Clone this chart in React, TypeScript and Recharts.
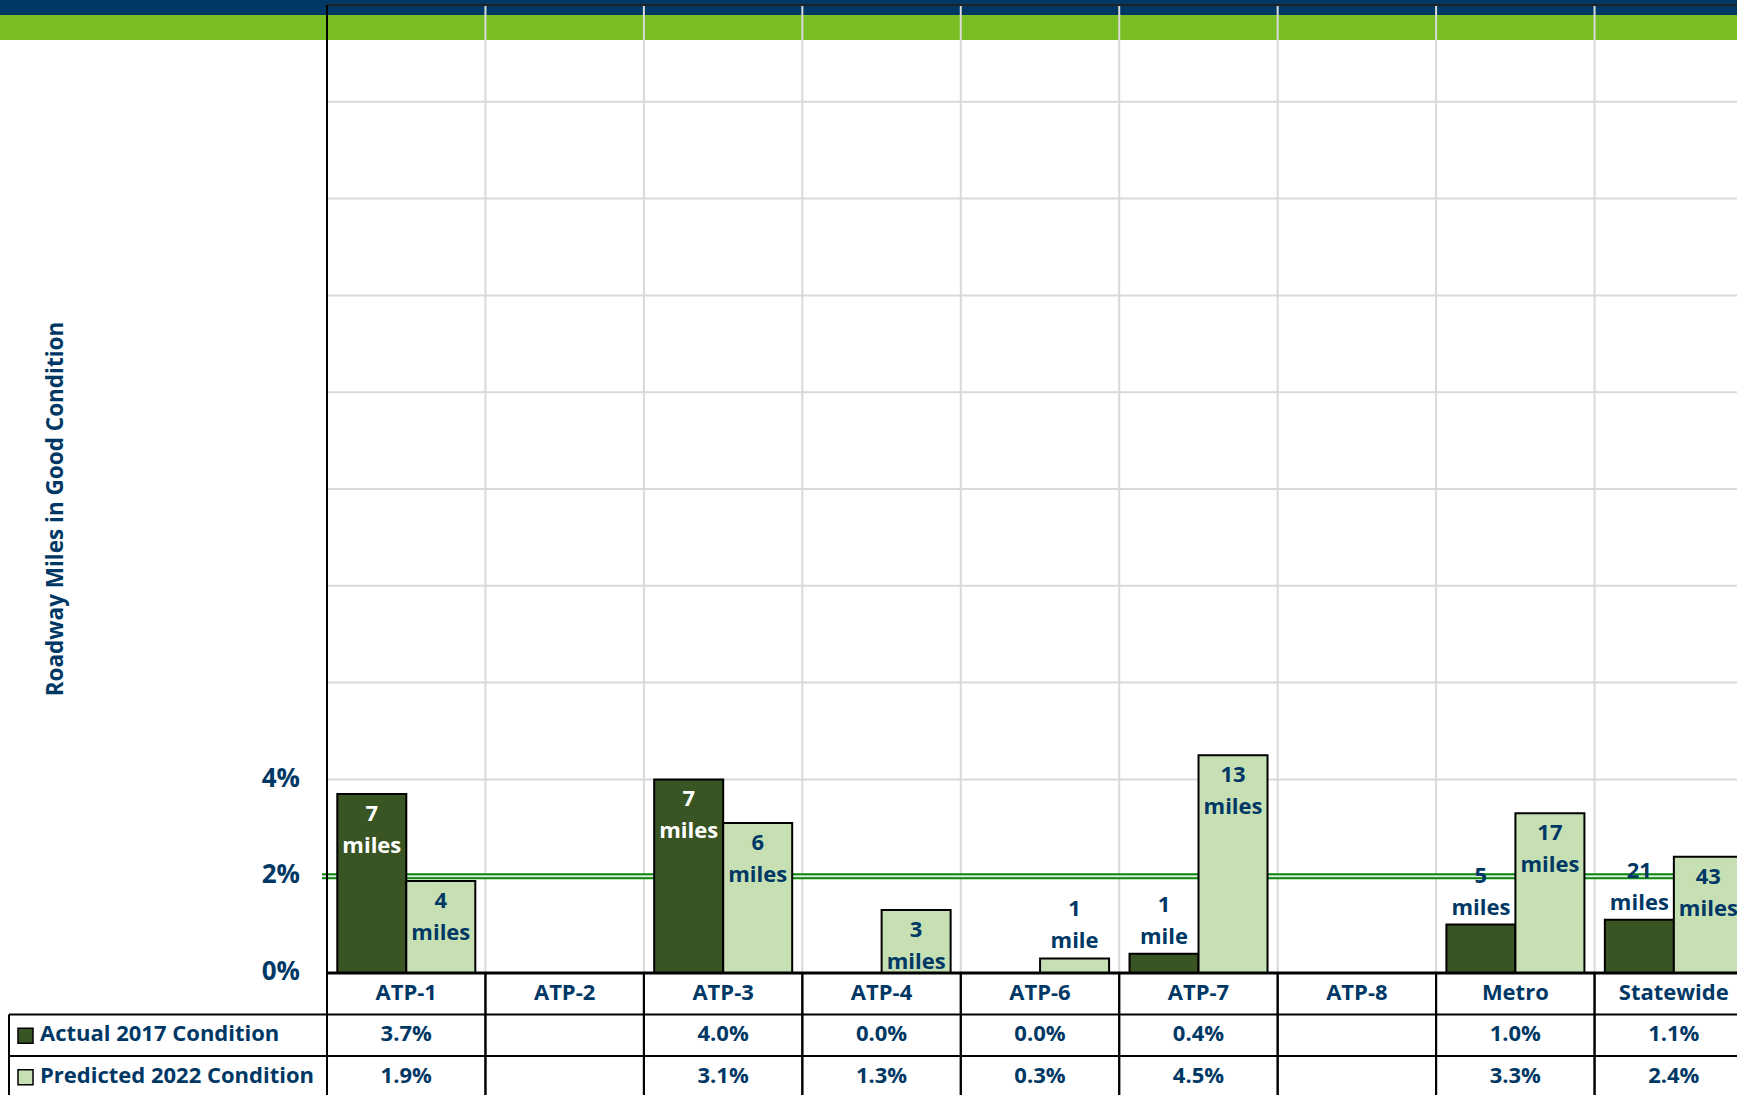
import React from 'react';
import { BarChart, Bar, XAxis, YAxis, CartesianGrid, ReferenceLine, LabelList } from 'recharts';

// regions along the bottom, in chart order
const regions = ['ATP-1', 'ATP-2', 'ATP-3', 'ATP-4', 'ATP-6', 'ATP-7', 'ATP-8', 'Metro', 'Statewide'];
// percent of roadway miles in good condition
const actual2017 = [3.7, null, 4.0, 0.0, 0.0, 0.4, null, 1.0, 1.1];
const predicted2022 = [1.9, null, 3.1, 1.3, 0.3, 4.5, null, 3.3, 2.4];
// miles shown in the bar labels
const actualMiles = [7, null, 7, null, null, 1, null, 5, 21];
const predictedMiles = [4, null, 6, 3, 1, 13, null, 17, 43];
const yTicks = [0, 2, 4, 6, 8, 10, 12, 14, 16, 18, 20];
const labelledTicks = [0, 2, 4];
const targetPct = 2;
const seriesNames = ['Actual 2017 Condition', 'Predicted 2022 Condition'];

const NAVY = '#003865';
const DARK = '#3A5524';
const LIGHT = '#C6E0B4';
const FONT = '"Open Sans", sans-serif';
const ROW_H = 41.5;
const Y_MAX = 20;

const data = regions.map((region, i) => ({
  region,
  actual: actual2017[i],
  predicted: predicted2022[i],
  actualMiles: actualMiles[i],
  predictedMiles: predictedMiles[i],
}));

const txt: any = {
  fontFamily: FONT,
  fontWeight: 700,
  fontSize: 22,
  fill: NAVY,
  textAnchor: 'middle',
  dominantBaseline: 'central',
};

const pct = (v: number | null) => (v == null ? '' : `${v.toFixed(1)}%`);

// x axis tick draws the category cell plus the data table under it
const TableTick = (props: any) => {
  const { x, y, payload, index, width } = props;
  const half = payload && payload.offset ? payload.offset : width / regions.length / 2;
  const left = x - half;
  const right = x + half;
  const r1 = y + ROW_H;
  const r2 = y + 2 * ROW_H;
  const bottom = y + 3 * ROW_H + 20;
  const ln = { stroke: '#000', strokeWidth: 2 };
  const mid = ROW_H / 2 - 3;
  return (
    <g>
      <line x1={left} y1={y} x2={left} y2={bottom} {...ln} />
      <line x1={right} y1={y} x2={right} y2={bottom} {...ln} />
      <line x1={left} y1={r1} x2={right} y2={r1} {...ln} />
      <line x1={left} y1={r2} x2={right} y2={r2} {...ln} />
      <text {...txt} x={x} y={y + mid}>{payload.value}</text>
      <text {...txt} x={x} y={r1 + mid}>{pct(actual2017[index])}</text>
      <text {...txt} x={x} y={r2 + mid}>{pct(predicted2022[index])}</text>
      {index === 0 && (
        <g>
          <line x1={9} y1={r1} x2={left} y2={r1} {...ln} />
          <line x1={9} y1={r2} x2={left} y2={r2} {...ln} />
          <line x1={9} y1={r1} x2={9} y2={bottom} {...ln} />
          <rect x={18} y={r1 + ROW_H / 2 - 7} width={15} height={15} fill={DARK} stroke="#000" strokeWidth={1.5} />
          <rect x={18} y={r2 + ROW_H / 2 - 7} width={15} height={15} fill={LIGHT} stroke="#000" strokeWidth={1.5} />
          <text {...txt} textAnchor="start" x={40} y={r1 + mid}>{seriesNames[0]}</text>
          <text {...txt} textAnchor="start" x={40} y={r2 + mid}>{seriesNames[1]}</text>
        </g>
      )}
    </g>
  );
};

const makeLabel = (insideFill: string) => (props: any) => {
  const { x, y, width, height, value } = props;
  if (value == null || height == null) return null;
  const cx = x + width / 2;
  const inside = height >= 58;
  const l1 = inside ? y + 18 : y - 51;
  const fill = inside ? insideFill : NAVY;
  return (
    <g>
      <text {...txt} fill={fill} x={cx} y={l1}>{value}</text>
      <text {...txt} fill={fill} x={cx} y={l1 + 32}>{value === 1 ? 'mile' : 'miles'}</text>
    </g>
  );
};

// 2% target: double green rule drawn at grid level so bars sit on top
const TargetLine = (props: any) => {
  const { x1, x2, y1 } = props;
  return (
    <g>
      <line x1={x1 - 5} x2={x2} y1={y1} y2={y1} stroke="#0A860A" strokeWidth={6} />
      <line x1={x1 - 5} x2={x2} y1={y1} y2={y1} stroke="#DDEBDD" strokeWidth={2} />
    </g>
  );
};

const YTitle = (props: any) => {
  const vb = props.viewBox || { x: 0, y: 5, width: 327, height: 968 };
  const cx = vb.x + 54;
  const cy = vb.y + vb.height / 2 + 20;
  return (
    <text {...txt} fontSize={22.5} x={cx} y={cy} transform={`rotate(-90 ${cx} ${cy})`}>
      Roadway Miles in Good Condition
    </text>
  );
};

export default function App() {
  return (
    <div style={{ position: 'absolute', left: 0, top: 0, width: 1737, height: 1095, overflow: 'hidden', background: '#fff' }}>
      <div style={{ position: 'absolute', left: 0, top: 0, width: 1737, height: 15, background: NAVY }} />
      <div style={{ position: 'absolute', left: 0, top: 15, width: 1737, height: 25, background: '#79BE22' }} />
      <div style={{ position: 'absolute', left: 0, top: 0 }}>
        <BarChart
          width={1753}
          height={1100}
          data={data}
          margin={{ top: 5, right: 0, bottom: 0, left: 0 }}
          barCategoryGap="6.5%"
          barGap={0}
        >
          <CartesianGrid
            stroke="#D9D9D9"
            strokeWidth={2}
            verticalCoordinatesGenerator={({ offset }: any) =>
              regions.map((_, i) => offset.left + (i + 1) * offset.width / regions.length)
            }
          />
          <CartesianGrid
            vertical={false}
            horizontal={(p: any) => <TargetLine key="target" {...p} />}
            horizontalCoordinatesGenerator={({ offset }: any) => [
              offset.top + offset.height * (1 - targetPct / Y_MAX),
            ]}
          />
          <XAxis
            dataKey="region"
            interval={0}
            height={127}
            tickLine={false}
            tickSize={0}
            tickMargin={0}
            axisLine={{ stroke: '#000', strokeWidth: 3 }}
            tick={<TableTick />}
          />
          <YAxis
            width={327}
            domain={[0, Y_MAX]}
            ticks={yTicks}
            interval={0}
            tickLine={false}
            tickSize={0}
            tickMargin={27}
            axisLine={{ stroke: '#000', strokeWidth: 2 }}
            tickFormatter={(v: number) => (labelledTicks.includes(v) ? `${v}%` : '')}
            tick={{ fontFamily: FONT, fontWeight: 700, fontSize: 26, fill: NAVY, dy: -2 }}
            label={{ content: <YTitle /> }}
          />
          <ReferenceLine y={Y_MAX} stroke="#222" strokeWidth={2} />
          <Bar dataKey="actual" fill={DARK} stroke="#000" strokeWidth={2} isAnimationActive={false}>
            <LabelList dataKey="actualMiles" content={makeLabel('#fff')} />
          </Bar>
          <Bar dataKey="predicted" fill={LIGHT} stroke="#000" strokeWidth={2} isAnimationActive={false}>
            <LabelList dataKey="predictedMiles" content={makeLabel(NAVY)} />
          </Bar>
        </BarChart>
      </div>
    </div>
  );
}
